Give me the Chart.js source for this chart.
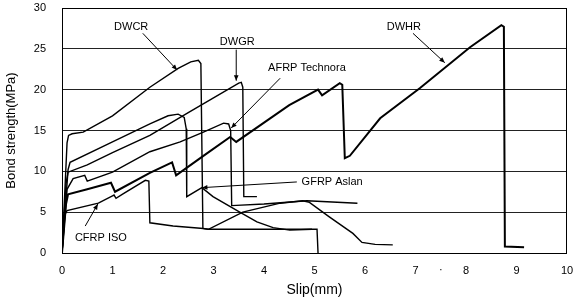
<!DOCTYPE html>
<html>
<head>
<meta charset="utf-8">
<script src="https://cdn.jsdelivr.net/npm/chart.js@4/dist/chart.umd.min.js"></script>
<style>
  html, body { margin: 0; padding: 0; background: #fff; }
  #wrap { width: 583px; height: 303px; }
</style>
</head>
<body>
<div id="wrap"><canvas id="chart"></canvas></div>
<script>
// slip (mm), bond strength (MPa)
const dwcr = [[0,0],[0.1,13.5],[0.13,14.4],[0.2,14.6],[0.42,14.8],[1.0,16.8],[1.74,20.3],[2.3,22.6],[2.55,23.4],[2.7,23.6],[2.75,23.2],[2.79,3.0],[2.9,2.9],[3.58,5.0],[4.32,6.1],[4.77,6.4],[4.9,6.2],[5.3,4.4],[5.76,2.4],[5.94,1.3],[6.2,1.05],[6.55,1.0]];
const dwgr = [[0,0],[0.08,8.5],[0.12,9.9],[0.5,10.8],[1.0,12.3],[1.74,14.4],[2.5,17.2],[3.0,19.0],[3.5,20.8],[3.55,20.9],[3.58,20.3],[3.6,6.9],[3.86,6.9]];
const dwhr = [[0,0],[0.08,6.0],[0.12,7.2],[0.5,7.8],[0.97,8.6],[1.05,7.5],[1.74,9.8],[2.18,11.1],[2.26,9.5],[2.8,11.9],[3.33,14.2],[3.45,13.6],[4.5,18.1],[5.07,20.0],[5.15,19.3],[5.5,20.8],[5.55,20.6],[5.6,11.6],[5.7,11.9],[6.3,16.5],[7.09,20.2],[8.08,25.2],[8.7,27.9],[8.75,27.7],[8.77,0.8],[9.15,0.7]];
const afrp = [[0,0],[0.1,7.8],[0.22,9.1],[0.45,9.5],[0.5,8.8],[1.0,9.9],[1.74,12.4],[2.34,13.6],[2.8,14.8],[3.2,15.9],[3.3,15.8],[3.34,15.0],[3.36,5.8],[4.0,6.0],[4.85,6.4],[5.85,6.1]];
const gfrp = [[0,0],[0.12,10.2],[0.16,11.1],[1.0,13.6],[1.74,15.8],[2.1,16.8],[2.3,17.0],[2.42,16.6],[2.46,15.2],[2.47,6.9],[2.77,8.0],[2.99,6.9],[3.52,5.0],[3.86,3.8],[4.18,3.1],[4.51,2.8],[4.95,2.9]];
const cfrp = [[0,0],[0.05,4.6],[0.1,5.2],[0.72,6.1],[1.0,7.0],[1.03,7.1],[1.07,6.7],[1.2,7.2],[1.65,8.9],[1.72,8.8],[1.74,3.7],[2.2,3.3],[2.8,3.0],[2.9,2.9],[5.05,2.9],[5.07,0]];

const seriesNames = ['DWCR', 'DWGR', 'DWHR', 'AFRP Technora', 'GFRP Aslan', 'CFRP ISO'];
const seriesData = [dwcr, dwgr, dwhr, afrp, gfrp, cfrp];
const seriesWidth = [1.4, 1.4, 2, 1.4, 1.4, 1.4];

const xTicks = [0, 1, 2, 3, 4, 5, 6, 7, 8, 9, 10];
const yTicks = [0, 5, 10, 15, 20, 25, 30];

// callout labels, in data units: text position, arrow from -> to
const callouts = [
  { text: 'DWCR', tx: 1.37, ty: 27.7, from: [1.6, 26.9], to: [2.28, 22.4] },
  { text: 'DWGR', tx: 3.47, ty: 25.8, from: [3.45, 24.9], to: [3.45, 21.1] },
  { text: 'AFRP Technora', tx: 4.85, ty: 22.6, from: [4.32, 21.4], to: [3.35, 15.3] },
  { text: 'DWHR', tx: 6.77, ty: 27.7, from: [6.95, 26.9], to: [7.58, 23.3] },
  { text: 'GFRP Aslan', tx: 5.35, ty: 8.7, from: [4.65, 8.7], to: [2.77, 8.0] },
  { text: 'CFRP ISO', tx: 0.77, ty: 1.85, from: [0.46, 3.3], to: [0.71, 6.0] }
];

const datasets = seriesNames.map((name, i) => ({
  label: name,
  data: seriesData[i].map(p => ({ x: p[0], y: p[1] })),
  borderColor: '#000',
  borderWidth: seriesWidth[i],
  pointRadius: 0,
  tension: 0,
  fill: false
}));

function arrowHead(ctx, x1, y1, x2, y2) {
  const a = Math.atan2(y2 - y1, x2 - x1);
  const len = 6;
  ctx.beginPath();
  ctx.moveTo(x2, y2);
  ctx.lineTo(x2 - len * Math.cos(a - 0.4), y2 - len * Math.sin(a - 0.4));
  ctx.lineTo(x2 - len * Math.cos(a + 0.4), y2 - len * Math.sin(a + 0.4));
  ctx.closePath();
  ctx.fill();
}

const extras = {
  id: 'extras',
  afterDraw(chart) {
    const ctx = chart.ctx;
    const xs = chart.scales.x, ys = chart.scales.y;
    const area = chart.chartArea;
    ctx.save();
    ctx.strokeStyle = '#000';
    ctx.lineWidth = 1;
    ctx.strokeRect(area.left + 0.5, area.top + 0.5, area.right - area.left - 1, area.bottom - area.top);

    ctx.fillStyle = '#000';
    ctx.font = '11px "Liberation Sans", Arial, sans-serif';
    ctx.textAlign = 'center';
    ctx.textBaseline = 'middle';
    callouts.forEach(c => {
      ctx.fillText(c.text, xs.getPixelForValue(c.tx), ys.getPixelForValue(c.ty));
      const x1 = xs.getPixelForValue(c.from[0]), y1 = ys.getPixelForValue(c.from[1]);
      const x2 = xs.getPixelForValue(c.to[0]), y2 = ys.getPixelForValue(c.to[1]);
      ctx.beginPath();
      ctx.moveTo(x1, y1);
      ctx.lineTo(x2, y2);
      ctx.stroke();
      arrowHead(ctx, x1, y1, x2, y2);
    });
    // stray dot between the 7 and 8 tick labels in the original
    ctx.fillText('·', xs.getPixelForValue(7.5), area.bottom + 17);
    ctx.restore();
  }
};

new Chart(document.getElementById('chart'), {
  type: 'line',
  data: { datasets },
  options: {
    responsive: true,
    maintainAspectRatio: false,
    animation: false,
    layout: { padding: { top: 8, right: 16, left: 0, bottom: 0 } },
    plugins: {
      legend: { display: false },
      tooltip: { enabled: false }
    },
    scales: {
      x: {
        type: 'linear',
        min: 0,
        max: 10,
        afterFit: s => { s.height = 50; s.paddingLeft = 0; s.paddingRight = 0; },
        afterBuildTicks: s => { s.ticks = xTicks.map(v => ({ value: v })); },
        grid: { display: false, drawTicks: false },
        border: { display: false },
        ticks: { color: '#000', padding: 11, font: { size: 11, family: '"Liberation Sans", Arial' } },
        title: { display: true, text: 'Slip(mm)', color: '#000', padding: { top: 6 }, font: { size: 14, family: '"Liberation Sans", Arial' } }
      },
      y: {
        min: 0,
        max: 30,
        afterFit: s => { s.width = 62; s.paddingTop = 0; s.paddingBottom = 0; },
        afterBuildTicks: s => { s.ticks = yTicks.map(v => ({ value: v })); },
        grid: { color: '#222', lineWidth: 1, drawTicks: false },
        border: { display: false },
        ticks: { color: '#000', padding: 16, font: { size: 11, family: '"Liberation Sans", Arial' } },
        title: { display: true, text: 'Bond strength(MPa)', color: '#000', padding: { bottom: 6 }, font: { size: 13, family: '"Liberation Sans", Arial' } }
      }
    }
  },
  plugins: [extras]
});
</script>
</body>
</html>
